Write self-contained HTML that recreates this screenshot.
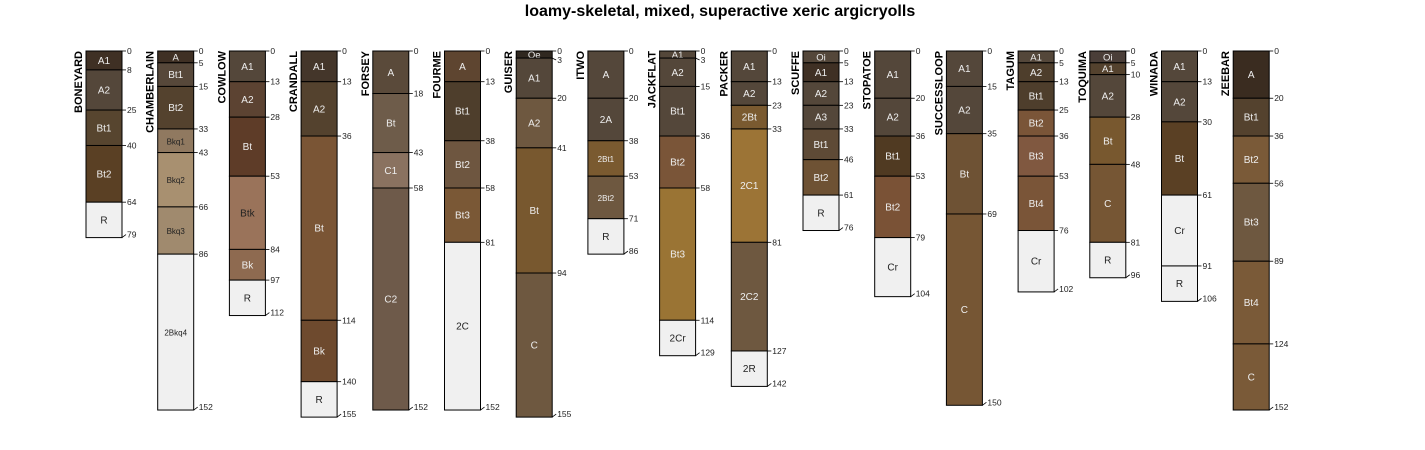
<!DOCTYPE html>
<html><head><meta charset="utf-8"><style>
body{margin:0;background:#fff;width:1425px;height:450px;overflow:hidden}
svg{display:block}
text{font-family:"Liberation Sans",sans-serif}
</style></head><body>
<svg id="chart" width="1425" height="450" viewBox="0 0 1425 450">
<text x="720" y="16" text-anchor="middle" font-size="16" font-weight="bold">loamy-skeletal, mixed, superactive xeric argicryolls</text>
</svg>
<script>
const profileNames = ["BONEYARD","CHAMBERLAIN","COWLOW","CRANDALL","FORSEY","FOURME","GUISER","ITWO","JACKFLAT","PACKER","SCUFFE","STOPATOE","SUCCESSLOOP","TAGUM","TOQUIMA","WINADA","ZEEBAR"];
const horizonNames = [
 ["A1","A2","Bt1","Bt2","R"],
 ["A","Bt1","Bt2","Bkq1","Bkq2","Bkq3","2Bkq4"],
 ["A1","A2","Bt","Btk","Bk","R"],
 ["A1","A2","Bt","Bk","R"],
 ["A","Bt","C1","C2"],
 ["A","Bt1","Bt2","Bt3","2C"],
 ["Oe","A1","A2","Bt","C"],
 ["A","2A","2Bt1","2Bt2","R"],
 ["A1","A2","Bt1","Bt2","Bt3","2Cr"],
 ["A1","A2","2Bt","2C1","2C2","2R"],
 ["Oi","A1","A2","A3","Bt1","Bt2","R"],
 ["A1","A2","Bt1","Bt2","Cr"],
 ["A1","A2","Bt","C"],
 ["A1","A2","Bt1","Bt2","Bt3","Bt4","Cr"],
 ["Oi","A1","A2","Bt","C","R"],
 ["A1","A2","Bt","Cr","R"],
 ["A","Bt1","Bt2","Bt3","Bt4","C"]];
const horizonDepths = [
 [0,8,25,40,64,79],
 [0,5,15,33,43,66,86,152],
 [0,13,28,53,84,97,112],
 [0,13,36,114,140,155],
 [0,18,43,58,152],
 [0,13,38,58,81,152],
 [0,3,20,41,94,155],
 [0,20,38,53,71,86],
 [0,3,15,36,58,114,129],
 [0,13,23,33,81,127,142],
 [0,5,13,23,33,46,61,76],
 [0,20,36,53,79,104],
 [0,15,35,69,150],
 [0,5,13,25,36,53,76,102],
 [0,5,10,28,48,81,96],
 [0,13,30,61,91,106],
 [0,20,36,56,89,124,152]];
const horizonColors = [
 ["#3f3024","#54473a","#57452f","#5a4024","#f0f0f0"],
 ["#3f3024","#57483a","#54422e","#907960","#a89070","#a08a6e","#f0f0f0"],
 ["#54473a","#5c4332","#5e3c28","#9a735a","#8e6a50","#f0f0f0"],
 ["#44362a","#54422e","#7a5535","#6e4a2e","#f0f0f0"],
 ["#5a4a3a","#6e5c4a","#8a7260","#6e5a4a"],
 ["#5e4530","#4e3e2c","#6e5640","#7a5836","#f0f0f0"],
 ["#302820","#54473a","#6e5840","#78582f","#6e5840"],
 ["#54473a","#54473a","#7a5a30","#6e5840","#f0f0f0"],
 ["#54473a","#54473a","#54473a","#7a5538","#9a7434","#f0f0f0"],
 ["#54473a","#54473a","#7a5a30","#9c7436","#6e5840","#f0f0f0"],
 ["#54473a","#3f3024","#54473a","#54473a","#5e4a36","#6e5234","#f0f0f0"],
 ["#54473a","#54473a","#503a22","#7a5236","#f0f0f0"],
 ["#54473a","#54473a","#6e5234","#765634"],
 ["#54473a","#4e3e2c","#4e3e2c","#7a5538","#805840","#7a5538","#f0f0f0"],
 ["#4a3e38","#54422e","#54473a","#78582f","#765634","#f0f0f0"],
 ["#54473a","#54473a","#5a4024","#f0f0f0","#f0f0f0"],
 ["#3a2c20","#54422e","#7a5a38","#6e5840","#7a5a38","#7a5a38"]];

const NS="http://www.w3.org/2000/svg";
const svg=document.getElementById("chart");
const x0=86, dx=71.7, w=36, y0=51, k=2.362;
const yS=d=>y0+d*k;
function mk(tag,attrs,parent){const e=document.createElementNS(NS,tag);for(const a in attrs)e.setAttribute(a,attrs[a]);(parent||svg).appendChild(e);return e;}
function lum(c){const n=parseInt(c.slice(1),16);return ((n>>16)&255)*0.299+((n>>8)&255)*0.587+(n&255)*0.114;}

profileNames.forEach((name,i)=>{
  const x=x0+i*dx;
  const g=mk("g",{});
  
  
  const depths=horizonDepths[i];
  const t=mk("text",{x:0,y:0,"font-size":11,"font-weight":"bold","text-anchor":"end",transform:`translate(${x-4},${y0}) rotate(-90)`},g);
  
  
  t.textContent=name;
  horizonNames[i].forEach((h,j)=>{
    const ya=yS(depths[j]), yb=yS(depths[j+1]);
    const r=mk("rect",{x:x,y:ya,width:w,height:yb-ya,fill:horizonColors[i][j],stroke:"#000","stroke-width":1},g);
    
    
    const light=lum(horizonColors[i][j])>122;
    const hh=yb-ya;
    const fs=h.length>3?8:(hh<12?9.5:10);
    const ht=mk("text",{x:x+w/2,y:(ya+yb)/2+3.5,"font-size":fs,"text-anchor":"middle",fill:light?"#222":"#eee"},g);
    
    
    ht.textContent=h;
  });
  let last=-99;
  depths.forEach((d,j)=>{
    const ty=yS(d);
    let ly=ty+3;
    if(j===depths.length-1) ly=ty;
    if(ly<last+9) ly=last+9;
    last=ly;
    const lx=x+w+5;
    mk("line",{x1:x+w,y1:ty,x2:lx-1,y2:ly-3,stroke:"#000","stroke-width":0.8},g);
    const dt=mk("text",{x:lx,y:ly,"font-size":8.5,fill:"#222"},g);
    
    
    dt.textContent=d;
  });
});
</script>
</body></html>
